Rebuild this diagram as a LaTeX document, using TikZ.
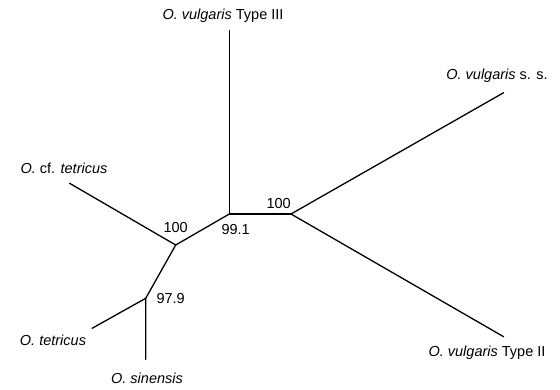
\documentclass[tikz,border=0pt]{standalone}
\usepackage{fontspec}
\setmainfont{Liberation Sans}
\usetikzlibrary{positioning}
\tikzset{
  tree-branch/.style={draw=black, line width=1.3pt, line cap=round, line join=round},
  taxon-label/.style={font=\fontsize{14.5}{17}\selectfont, inner sep=0pt},
  support-value/.style={font=\fontsize{14.5}{17}\selectfont, inner sep=0pt}
}

\begin{document}
\begin{tikzpicture}[x=1pt, y=-1pt]
  \useasboundingbox (0,0) rectangle (560,389);
  % Internal nodes of the unrooted tree
  \coordinate (vulg-split) at (291,214);
  \coordinate (type3-split) at (229.3,214);
  \coordinate (tetr-split) at (175.7,245);
  \coordinate (sin-split) at (145.7,298.3);

  % Leaf tips
  \coordinate (tip-type3) at (229.3,30.7);
  \coordinate (tip-ss) at (503.6,92.7);
  \coordinate (tip-type2) at (503.6,336.7);
  \coordinate (tip-cf) at (69.6,183.3);
  \coordinate (tip-tetr) at (92.1,328.3);
  \coordinate (tip-sin) at (145.7,359.3);

  % Branches
  \draw[tree-branch] (tip-ss) -- (vulg-split) -- (tip-type2);
  \draw[tree-branch] (vulg-split) -- (type3-split) -- (tip-type3);
  \draw[tree-branch] (type3-split) -- (tetr-split) -- (tip-cf);
  \draw[tree-branch] (tetr-split) -- (sin-split) -- (tip-sin);
  \draw[tree-branch] (sin-split) -- (tip-tetr);

  % Taxon names
  \node[taxon-label] (lab-type3) at (223,16) {\textit{O. vulgaris} Type III};
  \node[taxon-label] (lab-ss) at (497,76) {\textit{O. vulgaris} s. s.};
  \node[taxon-label] (lab-type2) at (487,353) {\textit{O. vulgaris} Type II};
  \node[taxon-label] (lab-cf) at (64,168) {\textit{O.} cf. \textit{tetricus}};
  \node[taxon-label] (lab-tetr) at (53,340.7) {\textit{O. tetricus}};
  \node[taxon-label] (lab-sin) at (147,378) {\textit{O. sinensis}};

  % Bootstrap support
  \node[support-value] (bs-vulg) at (278.6,204) {100};
  \node[support-value] (bs-type3) at (235.7,230) {99.1};
  \node[support-value] (bs-tetr) at (175.7,228) {100};
  \node[support-value] (bs-sin) at (170.7,298.3) {97.9};
\end{tikzpicture}
\end{document}
